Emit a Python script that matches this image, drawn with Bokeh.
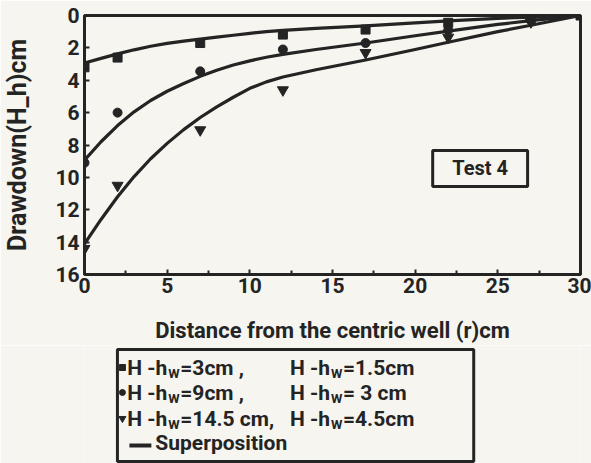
from bokeh.plotting import figure
from bokeh.models import Range1d, FixedTicker, BoxAnnotation, Label
from bokeh.layouts import column
from bokeh.embed import file_html
from bokeh.resources import INLINE
from bokeh.core.properties import value

# ---- data ----
r_obs = [0, 2, 7, 12, 17, 22, 27, 30]
dd_3cm = [3.2, 2.6, 1.7, 1.18, 0.87, 0.45, 0.15, 0.0]
dd_9cm = [9.1, 6.0, 3.45, 2.1, 1.7, 0.9, 0.3, 0.0]
dd_14_5cm = [14.4, 10.5, 7.07, 4.6, 2.3, 1.35, 0.4, 0.0]

r_fit = [0, 1, 2, 3, 4, 5, 6, 7, 8, 9, 10, 11, 12, 14, 17, 20, 22, 25, 27, 30]
fit_1_5cm = [2.93, 2.65, 2.37, 2.12, 1.9, 1.72, 1.58, 1.46, 1.34, 1.22, 1.1, 1.0, 0.92, 0.8, 0.64, 0.45, 0.33, 0.18, 0.1, 0.0]
fit_3cm = [8.93, 7.8, 6.8, 5.95, 5.25, 4.68, 4.2, 3.76, 3.38, 3.06, 2.8, 2.58, 2.4, 2.1, 1.7, 1.25, 0.97, 0.55, 0.32, 0.0]
fit_4_5cm = [14.1, 12.6, 11.2, 9.95, 8.85, 7.9, 7.05, 6.3, 5.65, 5.05, 4.5, 4.1, 3.8, 3.35, 2.75, 2.1, 1.65, 1.0, 0.6, 0.0]

x_ticks = [0, 5, 10, 15, 20, 25, 30]
x_minor = [2.5, 7.5, 12.5, 17.5, 22.5, 27.5]
y_ticks = [0, 2, 4, 6, 8, 10, 12, 14, 16]

legend_col1 = ["=3cm ,", "=9cm ,", "=14.5 cm,"]
legend_col2 = ["=1.5cm", "= 3 cm", "=4.5cm"]
legend_markers = ["square", "circle", "inverted_triangle"]

INK = "#242424"
BG = "#f6f5f0"
FONT = value("Roboto")

W = 591
BL, BR = 83, 11          # frame left / right borders (px)
H_MAIN = 345

p = figure(width=W, height=H_MAIN, x_range=Range1d(0, 30), y_range=Range1d(16, 0),
           output_backend="svg", toolbar_location=None,
           min_border_left=BL, min_border_right=BR, min_border_top=15,
           min_border_bottom=H_MAIN - 274,
           background_fill_color=BG, border_fill_color=BG)
p.grid.visible = False
p.outline_line_color = INK
p.outline_line_width = 3

for ax in (p.xaxis[0], p.yaxis[0]):
    ax.axis_line_color = INK
    ax.axis_line_width = 3
    ax.major_tick_in = 5
    ax.major_tick_out = 0
    ax.minor_tick_in = 4
    ax.minor_tick_out = 0
    ax.major_tick_line_color = INK
    ax.major_tick_line_width = 2
    ax.minor_tick_line_color = INK
    ax.minor_tick_line_width = 2
    ax.major_label_text_font = "Roboto"
    ax.major_label_text_font_style = "bold"
    ax.major_label_text_font_size = "21px"
    ax.major_label_text_color = INK
    ax.axis_label_text_font = "Roboto"
    ax.axis_label_text_font_style = "bold"
    ax.axis_label_text_color = INK

p.xaxis.ticker = FixedTicker(ticks=x_ticks, minor_ticks=x_minor)
p.yaxis.ticker = FixedTicker(ticks=y_ticks)
p.xaxis.major_label_standoff = 3
p.yaxis.major_label_standoff = 5
p.xaxis.axis_label = "Distance from the centric well (r)cm"
p.xaxis.axis_label_text_font_size = "22px"
p.xaxis.axis_label_standoff = 22
p.yaxis.axis_label = "Drawdown(H_h)cm"
p.yaxis.axis_label_text_font_size = "25px"
p.yaxis.axis_label_standoff = 20

for ys in (fit_1_5cm, fit_3cm, fit_4_5cm):
    p.line(r_fit, ys, line_color=INK, line_width=3.2, line_join="round")

p.scatter(r_obs, dd_3cm, marker="square", size=9, color=INK)
p.scatter(r_obs, dd_9cm, marker="circle", size=9, color=INK)
p.scatter(r_obs, dd_14_5cm, marker="inverted_triangle", size=11, color=INK)

p.add_layout(BoxAnnotation(left=21.06, right=26.8, top=8.34, bottom=10.56,
                           fill_color=None, fill_alpha=0, line_color=INK, line_alpha=1,
                           line_width=3))
p.add_layout(Label(x=23.93, y=9.45, text="Test 4", text_align="center", text_baseline="middle",
                   text_font="Roboto", text_font_style="bold", text_font_size="20px",
                   text_color=INK))

# ---- legend panel (data units = page pixels) ----
H_LEG = 463 - H_MAIN
L = figure(width=W, height=H_LEG, x_range=Range1d(BL, W - BR), y_range=Range1d(H_MAIN + H_LEG, H_MAIN),
           output_backend="svg", toolbar_location=None,
           min_border_left=BL, min_border_right=BR, min_border_top=0, min_border_bottom=0,
           x_axis_location=None, y_axis_location=None,
           background_fill_color=BG, border_fill_color=BG)
L.grid.visible = False
L.outline_line_color = None

L.quad(left=[116], right=[473], top=[349], bottom=[461], fill_color=None,
       line_color=INK, line_width=3)

rows_y = [367, 392, 418]
L.scatter([121, 121, 121], rows_y, marker=legend_markers, size=[6, 6, 7], color=INK)

col1_x, col2_x = 166, 329
common = dict(text_font=FONT, text_font_style="bold", text_color=INK, text_baseline="middle")
L.text(x=[col1_x] * 3 + [col2_x] * 3, y=rows_y * 2, text=["H -h"] * 6,
       text_align="right", text_font_size="21px", **common)
L.text(x=[col1_x + 1] * 3 + [col2_x + 1] * 3, y=[v + 6 for v in rows_y] * 2, text=["W"] * 6,
       text_align="left", text_font_size="13px", **common)
L.text(x=[col1_x + 13] * 3 + [col2_x + 13] * 3, y=rows_y * 2, text=legend_col1 + legend_col2,
       text_align="left", text_font_size="21px", **common)

L.line([128, 150], [445, 445], line_color=INK, line_width=4)
L.text(x=[154], y=[442], text=["Superposition"], text_align="left", text_font_size="21px", **common)

layout = column(p, L, spacing=0)
open("out.html", "w").write(file_html(layout, INLINE))
